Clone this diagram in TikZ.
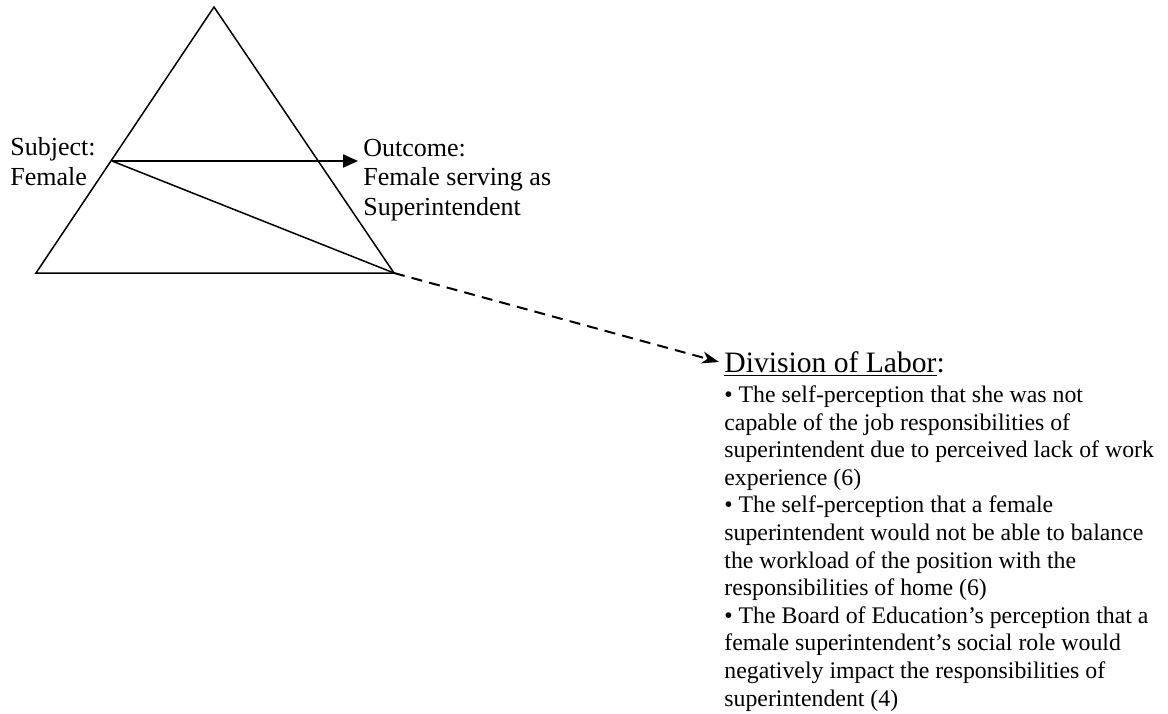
\documentclass[tikz,border=0pt]{standalone}
\usepackage{fontspec}
\setmainfont{Liberation Serif}
\usetikzlibrary{arrows.meta}
\begin{document}
\begin{tikzpicture}[x=0.5pt,y=-0.5pt,
  edge/.style={line width=0.75pt},
  flow/.style={line width=1.1pt,-{Triangle[length=7.5pt,width=6.5pt]}},
  link/.style={line width=1pt,dash pattern=on 5.5pt off 3.6pt,
    -{Stealth[length=8.5pt,width=6pt,inset=2.5pt]}},
  % multi-line nodes sit on the baseline of their last line
  label/.style={inner sep=0pt,anchor=base west,align=left,
    font=\fontsize{13}{14.75}\selectfont},
  body/.style={inner sep=0pt,anchor=base west,align=left,
    font=\fontsize{11.9}{13.8}\selectfont},
  heading/.style={inner sep=0pt,anchor=base west,
    font=\fontsize{14.8}{17}\selectfont}]
\useasboundingbox (0,0) rectangle (1168,713);

% activity triangle
\coordinate (apex) at (214,7);
\coordinate (bl) at (36,273);
\coordinate (br) at (394,273);
\coordinate (subj) at (112,161);
\coordinate (out) at (358,161);
\coordinate (dol) at (719,362);
\draw[edge] (apex) -- (bl) -- (br) -- cycle;
\draw[edge] (subj) -- (br);
\draw[flow] (subj) -- (out);
\draw[link] (br) -- (dol);

% labels
\node[label] (subject) at (10,185) {Subject:\\Female};
\node[label] (outcome) at (363,215) {Outcome:\\Female serving as\\Superintendent};
\node[heading] (title) at (724,372) {\underline{Division of Labor}:};
\node[body] (items) at (724,706) {%
\textbullet{} The self-perception that she was not\\
capable of the job responsibilities of\\
superintendent due to perceived lack of work\\
experience (6)\\
\textbullet{} The self-perception that a female\\
superintendent would not be able to balance\\
the workload of the position with the\\
responsibilities of home (6)\\
\textbullet{} The Board of Education’s perception that a\\
female superintendent’s social role would\\
negatively impact the responsibilities of\\
superintendent (4)};
\end{tikzpicture}
\end{document}
